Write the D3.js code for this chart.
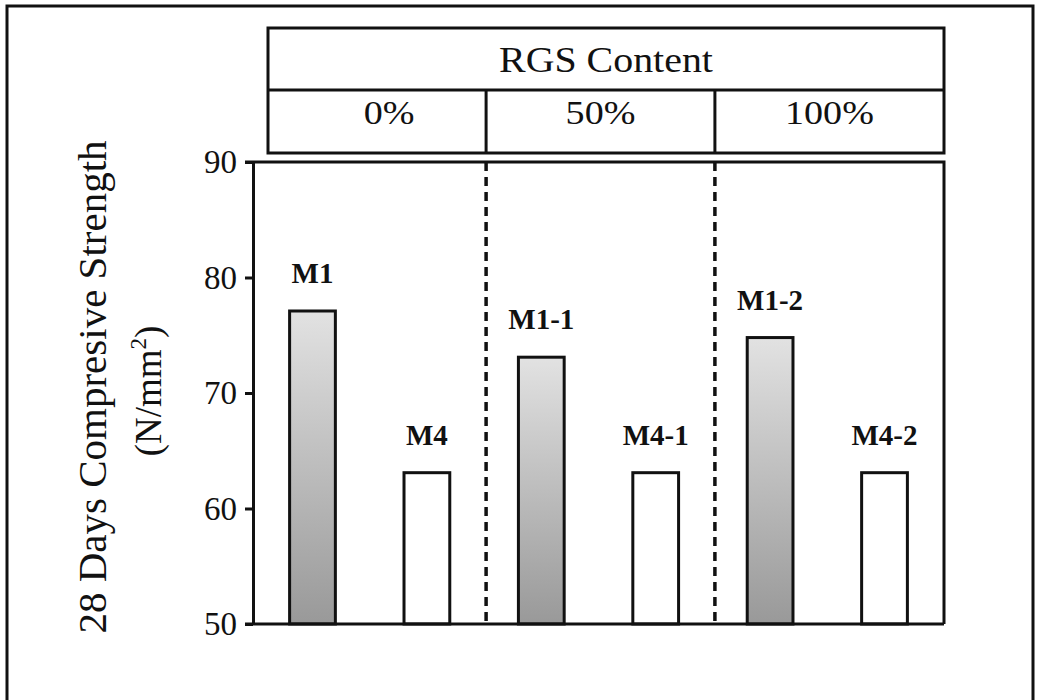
<!DOCTYPE html>
<html>
<head>
<meta charset="utf-8">
<script src="https://cdn.jsdelivr.net/npm/d3@7"></script>
<style>
  body { margin: 0; background: #fff; }
  text { font-family: "Liberation Serif", "Times New Roman", serif; fill: #111; }
</style>
</head>
<body>
<div id="chart"></div>
<script>
// mixes and their 28 day strength (N/mm2)
var mixes = ["M1", "M4", "M1-1", "M4-1", "M1-2", "M4-2"];
var strength = [77.1, 63.1, 73.1, 63.1, 74.8, 63.1];
var mixGroup = ["0%", "0%", "50%", "50%", "100%", "100%"];
var groups = ["0%", "50%", "100%"];
var yTicks = [50, 60, 70, 80, 90];
var headerTitle = "RGS Content";
var yTitle = "28 Days Compresive Strength";

var svgWidth = 1040;
var svgHeight = 700;

var plot = { left: 253, right: 944, top: 162, bottom: 624 };
var table = { left: 268, right: 944, top: 28, mid: 90, bottom: 153 };

var svg = d3.select("#chart")
  .append("svg")
  .attr("width", svgWidth)
  .attr("height", svgHeight);

// gray shading for the M1 bars
var grad = svg.append("defs").append("linearGradient")
  .attr("id", "shade")
  .attr("x1", 0).attr("y1", 0).attr("x2", 0).attr("y2", 1);
grad.append("stop").attr("offset", "0%").attr("stop-color", "#e2e2e2");
grad.append("stop").attr("offset", "40%").attr("stop-color", "#c4c4c4");
grad.append("stop").attr("offset", "100%").attr("stop-color", "#999");

// outer frame of the picture
svg.append("path")
  .attr("d", "M7,704 V6 H1033 V704")
  .attr("fill", "none")
  .attr("stroke", "#111")
  .attr("stroke-width", 3);

var x = d3.scaleBand()
  .domain(mixes)
  .range([plot.left, plot.right])
  .paddingInner(0.6)
  .paddingOuter(0.32);

var y = d3.scaleLinear()
  .domain([50, 90])
  .range([plot.bottom, plot.top]);

// widen text a little, the scan is stretched sideways
function stretch(sel, k) {
  sel.each(function() {
    var w = this.getComputedTextLength();
    d3.select(this).attr("textLength", w * k).attr("lengthAdjust", "spacingAndGlyphs");
  });
}

// group dividers sit halfway between neighbouring bars
var dividers = [];
for (var g = 0; g < groups.length - 1; g++) {
  var a = x(mixes[2 * g + 1]) + x.bandwidth();
  var b = x(mixes[2 * g + 2]);
  dividers.push((a + b) / 2 + 2);
}
var colEdges = [table.left].concat(dividers).concat([table.right]);

// header table
var head = svg.append("g")
  .attr("fill", "none")
  .attr("stroke", "#111")
  .attr("stroke-width", 3);

head.append("rect")
  .attr("x", table.left)
  .attr("y", table.top)
  .attr("width", table.right - table.left)
  .attr("height", table.bottom - table.top);

head.append("line")
  .attr("x1", table.left).attr("x2", table.right)
  .attr("y1", table.mid).attr("y2", table.mid);

head.selectAll(".col")
  .data(dividers)
  .enter()
  .append("line")
  .attr("x1", d => d).attr("x2", d => d)
  .attr("y1", table.mid).attr("y2", table.bottom);

svg.append("text")
  .attr("x", (table.left + table.right) / 2)
  .attr("y", 72)
  .attr("text-anchor", "middle")
  .attr("font-size", 35)
  .text(headerTitle)
  .call(stretch, 1.14);

svg.selectAll(".grp")
  .data(groups)
  .enter()
  .append("text")
  .attr("class", "grp")
  .attr("x", (d, i) => (colEdges[i] + colEdges[i + 1]) / 2 + (i === 0 ? 12 : 0))
  .attr("y", 124)
  .attr("text-anchor", "middle")
  .attr("font-size", 34)
  .text(d => d)
  .call(stretch, 1.12);

// plot frame: top and right edges
svg.append("path")
  .attr("d", `M${plot.left - 8},${plot.top} H${plot.right} V${plot.bottom}`)
  .attr("fill", "none")
  .attr("stroke", "#111")
  .attr("stroke-width", 3);

// dashed group separators
svg.selectAll(".sep")
  .data(dividers)
  .enter()
  .append("line")
  .attr("x1", d => d).attr("x2", d => d)
  .attr("y1", plot.top).attr("y2", plot.bottom)
  .attr("stroke", "#111")
  .attr("stroke-width", 3.5)
  .attr("stroke-dasharray", "9,6");

// bars
svg.selectAll(".bar")
  .data(mixes)
  .enter()
  .append("rect")
  .attr("class", "bar")
  .attr("x", d => x(d))
  .attr("width", x.bandwidth())
  .attr("y", (d, i) => y(strength[i]))
  .attr("height", (d, i) => y(50) - y(strength[i]))
  .attr("fill", d => d.indexOf("M1") === 0 ? "url(#shade)" : "#fff")
  .attr("stroke", "#111")
  .attr("stroke-width", 3);

// bar labels
svg.selectAll(".lbl")
  .data(mixes)
  .enter()
  .append("text")
  .attr("class", "lbl")
  .attr("x", d => x(d) + x.bandwidth() / 2)
  .attr("y", (d, i) => y(strength[i]) - 28)
  .attr("text-anchor", "middle")
  .attr("font-size", 29)
  .attr("font-weight", "bold")
  .text(d => d);

// y axis
var yAxis = svg.append("g")
  .attr("transform", `translate(${plot.left}, 0)`)
  .call(d3.axisLeft(y).tickValues(yTicks).tickSize(8).tickSizeOuter(0).tickPadding(8));

yAxis.select(".domain").attr("stroke", "#111").attr("stroke-width", 3);
yAxis.selectAll(".tick line").attr("stroke", "#111").attr("stroke-width", 3);
yAxis.selectAll(".tick text")
  .attr("font-family", "Liberation Serif, serif")
  .attr("font-size", 33)
  .attr("fill", "#111");

// baseline
svg.append("line")
  .attr("x1", plot.left - 8).attr("x2", plot.right)
  .attr("y1", plot.bottom).attr("y2", plot.bottom)
  .attr("stroke", "#111")
  .attr("stroke-width", 3);

// y axis title, two lines
var midY = (plot.top + plot.bottom) / 2;
svg.append("text")
  .attr("transform", `translate(106, ${midY - 6}) rotate(-90)`)
  .attr("text-anchor", "middle")
  .attr("font-size", 41)
  .text(yTitle);

var unit = svg.append("text")
  .attr("transform", `translate(161, ${midY - 2}) rotate(-90)`)
  .attr("text-anchor", "middle")
  .attr("font-size", 37);
unit.append("tspan").text("(N/mm");
unit.append("tspan").attr("dy", -15).attr("font-size", 23).text("2");
unit.append("tspan").attr("dy", 15).text(")");
</script>
</body>
</html>
